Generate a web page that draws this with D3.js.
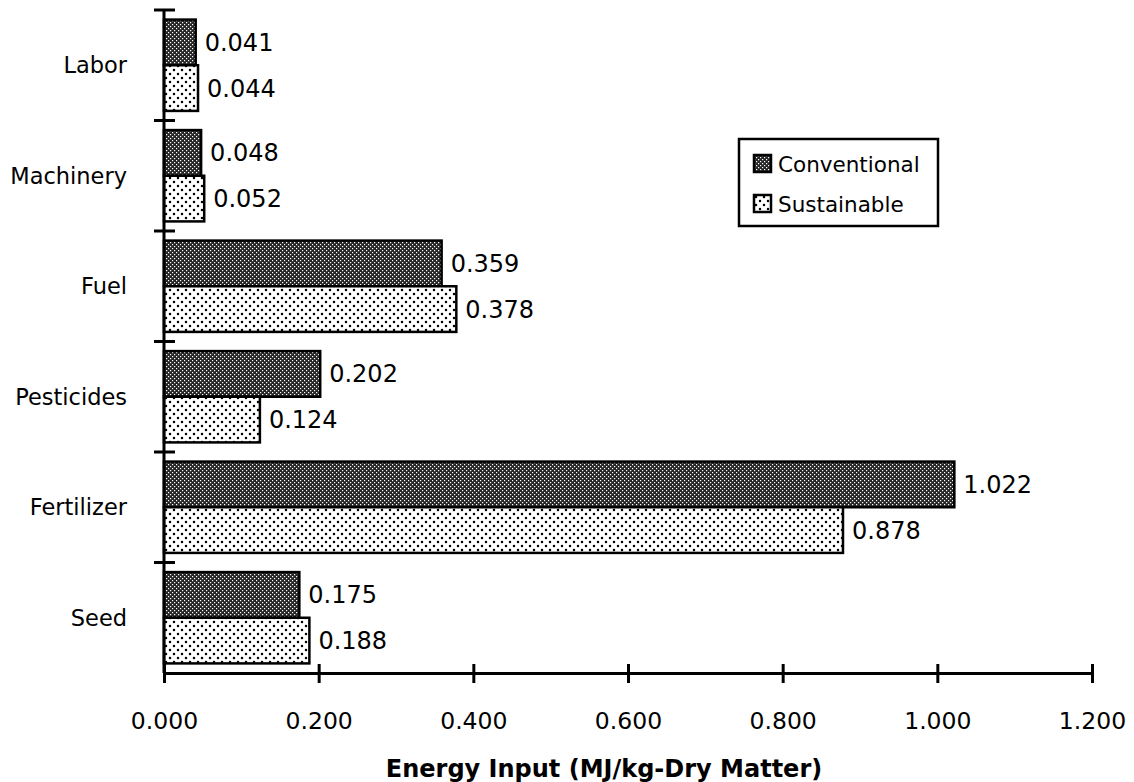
<!DOCTYPE html>
<html>
<head>
<meta charset="utf-8">
<script src="https://cdn.jsdelivr.net/npm/d3@7"></script>
<style>
  body { margin: 0; background: #fff; }
  svg { display: block; font-family: 'DejaVu Sans', sans-serif; }
</style>
</head>
<body>
<div id="viz"></div>
<script>
const width = 1134;
const height = 782;
const margin = {top: 10, right: 42, bottom: 109, left: 164};

// Data, top to bottom as drawn
const categories = ['Labor', 'Machinery', 'Fuel', 'Pesticides', 'Fertilizer', 'Seed'];
const series = ['Conventional', 'Sustainable'];
const conventional = [0.041, 0.048, 0.359, 0.202, 1.022, 0.175];
const sustainable = [0.044, 0.052, 0.378, 0.124, 0.878, 0.188];
const xTicks = [0, 0.2, 0.4, 0.6, 0.8, 1.0, 1.2];

const rows = [];
categories.forEach((cat, i) => {
  rows.push({cat: cat, series: 'Conventional', value: conventional[i]});
  rows.push({cat: cat, series: 'Sustainable', value: sustainable[i]});
});

const svg = d3.select('#viz')
  .append('svg')
    .attr('width', width)
    .attr('height', height);

// Fill patterns: dark fine screen for conventional, sparse dots for sustainable
const defs = svg.append('defs');
const convPat = defs.append('pattern')
    .attr('id', 'pat-conv')
    .attr('patternUnits', 'userSpaceOnUse')
    .attr('width', 4)
    .attr('height', 4);
convPat.append('rect').attr('width', 4).attr('height', 4).attr('fill', '#262626');
convPat.append('rect').attr('x', 0).attr('y', 0).attr('width', 1.2).attr('height', 1.2).attr('fill', '#fff');
convPat.append('rect').attr('x', 2).attr('y', 2).attr('width', 1.2).attr('height', 1.2).attr('fill', '#fff');

const susPat = defs.append('pattern')
    .attr('id', 'pat-sus')
    .attr('patternUnits', 'userSpaceOnUse')
    .attr('width', 8)
    .attr('height', 8);
susPat.append('rect').attr('width', 8).attr('height', 8).attr('fill', '#fff');
susPat.append('circle').attr('cx', 2).attr('cy', 2).attr('r', 1.25).attr('fill', '#000');
susPat.append('circle').attr('cx', 6).attr('cy', 6).attr('r', 1.25).attr('fill', '#000');

const fillFor = s => s === 'Conventional' ? 'url(#pat-conv)' : 'url(#pat-sus)';

// Scales
const xScale = d3.scaleLinear()
  .domain([0, 1.2])
  .range([margin.left, width - margin.right]);

const yScale = d3.scaleBand()
  .domain(categories)
  .range([margin.top, height - margin.bottom])
  .padding(0);

const ySub = d3.scaleBand()
  .domain(series)
  .range([0, yScale.bandwidth()])
  .paddingInner(0)
  .paddingOuter(0.21);

// Bars
svg.append('g')
    .attr('class', 'bars')
  .selectAll('rect')
  .data(rows)
  .join('rect')
    .attr('x', xScale(0))
    .attr('y', d => yScale(d.cat) + ySub(d.series))
    .attr('width', d => xScale(d.value) - xScale(0))
    .attr('height', ySub.bandwidth())
    .attr('fill', d => fillFor(d.series))
    .attr('stroke', '#000')
    .attr('stroke-width', 2.5);

// Value labels
svg.append('g')
    .attr('class', 'value-labels')
  .selectAll('text')
  .data(rows)
  .join('text')
    .attr('x', d => xScale(d.value) + 9)
    .attr('y', d => yScale(d.cat) + ySub(d.series) + ySub.bandwidth() / 2 + 8.5)
    .style('font-size', '24px')
    .attr('fill', '#000')
    .text(d => d3.format('.3f')(d.value));

// Y axis (line + ticks at band boundaries)
const yAxisGroup = svg.append('g').attr('class', 'y-axis');
const plotBottom = height - margin.bottom;
yAxisGroup.append('line')
    .attr('x1', xScale(0)).attr('x2', xScale(0))
    .attr('y1', margin.top).attr('y2', plotBottom)
    .attr('stroke', '#000')
    .attr('stroke-width', 3);
const bandEdges = categories.map(c => yScale(c));
yAxisGroup.selectAll('.ytick')
  .data(bandEdges)
  .join('line')
    .attr('class', 'ytick')
    .attr('x1', xScale(0) - 10).attr('x2', xScale(0) + 11)
    .attr('y1', d => d).attr('y2', d => d)
    .attr('stroke', '#000')
    .attr('stroke-width', 3);
yAxisGroup.selectAll('.cat-label')
  .data(categories)
  .join('text')
    .attr('class', 'cat-label')
    .attr('x', 127)
    .attr('y', d => yScale(d) + yScale.bandwidth() / 2 + 8)
    .attr('text-anchor', 'end')
    .style('font-size', '22.5px')
    .text(d => d);

// X axis
const xAxis = d3.axisBottom(xScale)
  .tickValues(xTicks)
  .tickSize(0)
  .tickPadding(0)
  .tickFormat(d3.format('.3f'));
const xAxisGroup = svg.append('g')
    .attr('class', 'x-axis')
    .attr('transform', `translate(0, ${plotBottom})`)
    .call(xAxis);
xAxisGroup.select('.domain')
    .attr('stroke', '#000')
    .attr('stroke-width', 3);
xAxisGroup.selectAll('.tick line')
    .attr('y1', -9)
    .attr('y2', 10)
    .attr('stroke', '#000')
    .attr('stroke-width', 3);
xAxisGroup.selectAll('.tick text')
    .attr('y', 56)
    .attr('dy', null)
    .attr('fill', '#000')
    .style('font-family', "'DejaVu Sans', sans-serif")
    .style('font-size', '23.5px');

// Axis title
svg.append('text')
    .attr('x', 604)
    .attr('y', 777)
    .attr('text-anchor', 'middle')
    .style('font-size', '24px')
    .style('font-weight', 'bold')
    .text('Energy Input (MJ/kg-Dry Matter)');

// Legend
const legend = svg.append('g')
    .attr('class', 'legend')
    .attr('transform', 'translate(739, 139)');
legend.append('rect')
    .attr('width', 199)
    .attr('height', 87)
    .attr('fill', '#fff')
    .attr('stroke', '#000')
    .attr('stroke-width', 2.5);
const legendItems = legend.selectAll('.legend-item')
  .data(series)
  .join('g')
    .attr('class', 'legend-item')
    .attr('transform', (d, i) => `translate(15, ${16 + i * 40})`);
legendItems.append('rect')
    .attr('width', 17)
    .attr('height', 17)
    .attr('fill', d => fillFor(d))
    .attr('stroke', '#000')
    .attr('stroke-width', 2.5);
legendItems.append('text')
    .attr('x', 24)
    .attr('y', 17)
    .style('font-size', '21.5px')
    .text(d => d);
</script>
</body>
</html>
